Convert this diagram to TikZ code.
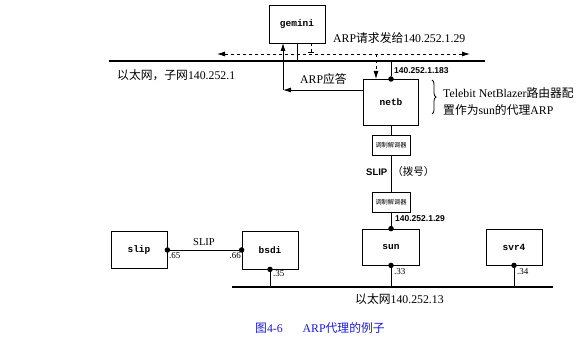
\documentclass[tikz,border=0pt]{standalone}
\usepackage{fontspec}
\setmainfont{Liberation Serif}
\newfontfamily\cjk{Noto Sans CJK SC}
\newfontfamily\hostfont{Liberation Mono}
\newfontfamily\lblfont{Liberation Sans}
\newcommand\cjktext[1]{{\cjk #1}}
\usetikzlibrary{arrows.meta,decorations.pathreplacing}
\definecolor{capblue}{RGB}{25,25,215}
\begin{document}
\begin{tikzpicture}[x=1pt,y=-1pt,
 host/.style={draw, line width=0.8pt, inner sep=0pt, font=\hostfont\bfseries\fontsize{9.5}{10}\selectfont},
 modem/.style={draw, line width=0.8pt, minimum width=38pt, minimum height=20pt, inner sep=0pt, font=\cjk\fontsize{6.2}{7}\selectfont},
 ether/.style={line width=2.2pt},
 link/.style={line width=0.8pt},
 dot/.style={circle, fill, inner sep=0pt, minimum size=5.5pt},
 addr/.style={font=\lblfont\bfseries\fontsize{8.5}{9}\selectfont, inner sep=0pt},
 small/.style={font=\fontsize{9}{10}\selectfont, inner sep=0pt},
 txt/.style={font=\fontsize{11.8}{13}\selectfont, inner sep=0pt},
 arr/.style={-{Latex[length=8pt,width=5pt]}}
]
\useasboundingbox (0,0) rectangle (581,339);

% hosts
\node[host, minimum width=56pt, minimum height=38pt] (gemini) at (297,24) {gemini};
\node[host, minimum width=55pt, minimum height=46pt] (netb) at (391,102) {netb};
\node[host, minimum width=57pt, minimum height=36pt] (sun) at (391,247) {sun};
\node[host, minimum width=56pt, minimum height=36pt] (svr4) at (514,247) {svr4};
\node[host, minimum width=56pt, minimum height=37pt] (slip) at (139,250) {slip};
\node[host, minimum width=56pt, minimum height=38pt] (bsdi) at (270,250) {bsdi};
\node[modem] (m1) at (391,145) {调制解调器};
\node[modem] (m2) at (391,202.5) {调制解调器};

% top ethernet
\coordinate (e1L) at (109,61);
\coordinate (e1R) at (485,61);
\draw[ether] (e1L) -- (e1R);
\coordinate (dL) at (217,54);
\coordinate (dR) at (470,54);
\draw[link, dashed, {Latex[length=8pt,width=5pt]}-{Latex[length=8pt,width=5pt]}] (dL) -- (dR);

\draw[link] (gemini.south) -- (gemini.south |- e1L);
\coordinate (gd) at (311,43);
\draw[link, dashed] (gd) -- (gd |- dL);
\draw[link] (308,52) -- (314,52);

% ARP reply
\coordinate (nr) at (363,90);
\coordinate (rc) at (283,90);
\coordinate (gb) at (283,43);
\draw[link, arr] (nr) -- (rc);
\draw[link, arr] (rc) -- (gb);
% ARP request to netb
\coordinate (rq) at (376,54);
\coordinate (nt) at (376,79);
\draw[link, dashed, arr] (rq) -- (nt);

% netb attachment
\node[dot] (nbd) at (391,79) {};
\draw[link] (nbd) -- (nbd |- e1L);
\node[addr, anchor=west] (a183) at (394,71) {140.252.1.183};

% brace and description
\draw[link, decorate, decoration={brace, amplitude=4pt}] (432,80) -- (432,114);
\node[txt, anchor=west] (d1) at (443,93) {Telebit NetBlazer\cjktext{路由器配}};
\node[txt, anchor=west] (d2) at (443,110) {\cjktext{置作为}sun\cjktext{的代理}ARP};

% SLIP dial-up
\draw[link] (netb.south) -- (m1.north);
\draw[link] (m1.south) -- (m2.north);
\draw[link] (m2.south) -- (sun.north);
\node[anchor=west, inner sep=0pt] (slipdial) at (366,172) {{\lblfont\bfseries\fontsize{9.5}{10}\selectfont SLIP}\hspace{5pt}{\cjk\fontsize{10.5}{11}\selectfont （拨号）}};
\node[dot] (sund) at (sun.north) {};
\node[addr, anchor=west] (a129) at (395,219) {140.252.1.29};

% bottom ethernet
\coordinate (e2L) at (232,287);
\coordinate (e2R) at (553,287);
\draw[ether] (e2L) -- (e2R);
\node[dot] (sunb) at (sun.south) {};
\draw[link] (sunb) -- (sunb |- e2L);
\node[small, anchor=west] (l33) at (394,272) {.33};
\node[dot] (svrb) at (svr4.south) {};
\draw[link] (svrb) -- (svrb |- e2L);
\node[small, anchor=west] (l34) at (517,272) {.34};
\node[dot] (bsdib) at (bsdi.south) {};
\draw[link] (bsdib) -- (bsdib |- e2L);
\node[small, anchor=west] (l35) at (273,274) {.35};

% slip link
\node[dot] (slipd) at (slip.east) {};
\node[dot] (bsdid) at (bsdi.west) {};
\draw[link] (slipd) -- (bsdid);
\node[small, anchor=west] (l65) at (169,256) {.65};
\node[small, anchor=east] (l66) at (241,256) {.66};
\node[font=\fontsize{10.5}{11}\selectfont, inner sep=0pt] (sliplbl) at (204,242) {SLIP};

% texts
\node[txt, anchor=west] (net1) at (117,75) {\cjktext{以太网，子网}140.252.1};
\node[txt, anchor=west] (req) at (333,38) {ARP\cjktext{请求发给}140.252.1.29};
\node[txt, anchor=west] (rep) at (300,79) {ARP\cjktext{应答}};
\node[txt, anchor=west] (net2) at (355,299) {\cjktext{以太网}140.252.13};
\node[txt, anchor=west, text=capblue] (cap) at (255,328) {\cjktext{图}4-6\hspace{20pt}ARP\cjktext{代理的例子}};
\end{tikzpicture}
\end{document}
